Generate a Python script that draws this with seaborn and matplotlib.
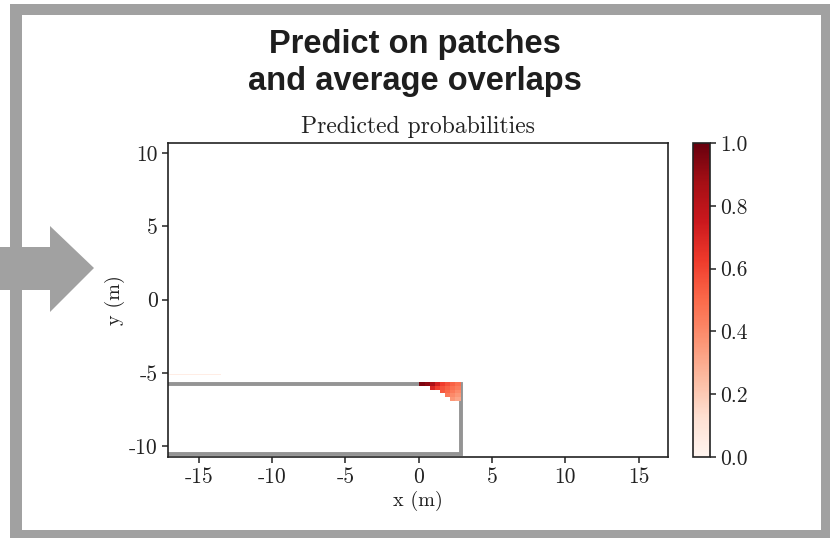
import numpy as np
import matplotlib
matplotlib.use("Agg")
import matplotlib.pyplot as plt
from matplotlib.patches import Rectangle, Polygon
import seaborn as sns

# ---------------- data ----------------
title_text = "Predict on patches\nand average overlaps"
ax_title = "Predicted probabilities"
x_label = "x (m)"
y_label = "y (m)"
x_ticks = [-15, -10, -5, 0, 5, 10, 15]
y_ticks = [-10, -5, 0, 5, 10]
cbar_ticks = [0.0, 0.2, 0.4, 0.6, 0.8, 1.0]

# predicted probability patch near the building corner
patch_x_edges = [0.05, 0.4, 0.75, 1.1, 1.45, 1.8, 2.15, 2.5, 2.85]
patch_y_edges = [-5.65, -5.9, -6.15, -6.4, -6.65, -6.9]
patch_prob = [
    [0.95, 0.92, 0.85, 0.72, 0.62, 0.57, 0.52, 0.48],
    [np.nan, np.nan, 0.70, 0.62, 0.56, 0.52, 0.48, 0.44],
    [np.nan, np.nan, np.nan, np.nan, 0.55, 0.50, 0.45, 0.40],
    [np.nan, np.nan, np.nan, np.nan, np.nan, 0.45, 0.40, 0.36],
    [np.nan, np.nan, np.nan, np.nan, np.nan, np.nan, 0.36, 0.32],
]

# faint low-probability strip on the left
strip_x_edges = [-17.2, -13.5]
strip_y_edges = [-5.15, -5.05]
strip_prob = [[0.05]]

# building outline
outline_x = [-17.2, 2.85, 2.85, -17.2]
outline_y = [-5.78, -5.78, -10.55, -10.55]

xlim = (-17.1, 17.0)
ylim = (-10.75, 10.7)

# ---------------- style ----------------
sns.set_theme(style="white")
plt.rcParams["font.family"] = ["cmr10", "DejaVu Serif"]
plt.rcParams["axes.unicode_minus"] = False
plt.rcParams["axes.formatter.use_mathtext"] = True
plt.rcParams["mathtext.fontset"] = "cm"

W, H = 830, 538
fig = plt.figure(figsize=(W / 100, H / 100), dpi=100)
fig.patch.set_facecolor("white")

def fx(px):
    return px / W

def fy(py):
    return 1 - py / H

gray = "#a1a1a1"
# frame
fig.patches.append(Rectangle((fx(10), 0), 1 - fx(10), fy(4), transform=fig.transFigure,
                             facecolor=gray, edgecolor="none", zorder=-3))
fig.patches.append(Rectangle((fx(22), fy(530)), fx(821) - fx(22), fy(15) - fy(530),
                             transform=fig.transFigure, facecolor="white", edgecolor="none", zorder=-2))
# arrow
arrow_px = [(0, 247), (50, 247), (50, 226), (94, 268), (50, 312), (50, 290), (0, 290)]
fig.patches.append(Polygon([(fx(a), fy(b)) for a, b in arrow_px], closed=True,
                           transform=fig.transFigure, facecolor=gray, edgecolor="none", zorder=-1))

fig.text(0.5, fy(63), title_text, ha="center", va="center", fontsize=23.5,
         fontweight="bold", family=["Liberation Sans", "DejaVu Sans"], color="#1e1e1e",
         linespacing=1.23)

ax = fig.add_axes([fx(168), fy(457), fx(668) - fx(168), fy(143) - fy(457)])
cax = fig.add_axes([fx(693), fy(457), fx(710) - fx(693), fy(143) - fy(457)])

cmap = sns.color_palette("Reds", as_cmap=True)

ax.plot(outline_x, outline_y, color="#8e8e8e", lw=2.8, alpha=0.95, zorder=2,
        solid_joinstyle="miter")
mesh = ax.pcolormesh(patch_x_edges, patch_y_edges, np.ma.masked_invalid(np.array(patch_prob)),
                     cmap=cmap, vmin=0, vmax=1, zorder=3)
ax.pcolormesh(strip_x_edges, strip_y_edges, np.array(strip_prob), cmap=cmap, vmin=0, vmax=1, zorder=1)

ax.set_xlim(*xlim)
ax.set_ylim(*ylim)
ax.set_xticks(x_ticks)
ax.set_yticks(y_ticks)
ax.set_xticklabels([str(t) for t in x_ticks])
ax.set_yticklabels([str(t) for t in y_ticks])
ax.tick_params(axis="both", which="both", direction="out", length=4, width=1.1,
               labelsize=15.5, color="#222222", labelcolor="#222222", bottom=True, left=True)
for s in ax.spines.values():
    s.set_color("#222222")
    s.set_linewidth(1.2)
ax.set_facecolor("white")
ax.set_title(ax_title, fontsize=17, color="#222222", pad=7)
ax.set_xlabel(x_label, fontsize=14.5, color="#222222", labelpad=3)
ax.set_ylabel(y_label, fontsize=14.5, color="#222222", labelpad=3)

cb = fig.colorbar(mesh, cax=cax)
cb.set_ticks(cbar_ticks)
cb.set_ticklabels([f"{t:.1f}" for t in cbar_ticks])
cb.outline.set_edgecolor("#222222")
cb.outline.set_linewidth(1.2)
cax.tick_params(direction="out", length=4, width=1.1, labelsize=15.5, color="#222222",
                labelcolor="#222222", right=True)

fig.savefig("out.png", dpi=100, facecolor="white")
